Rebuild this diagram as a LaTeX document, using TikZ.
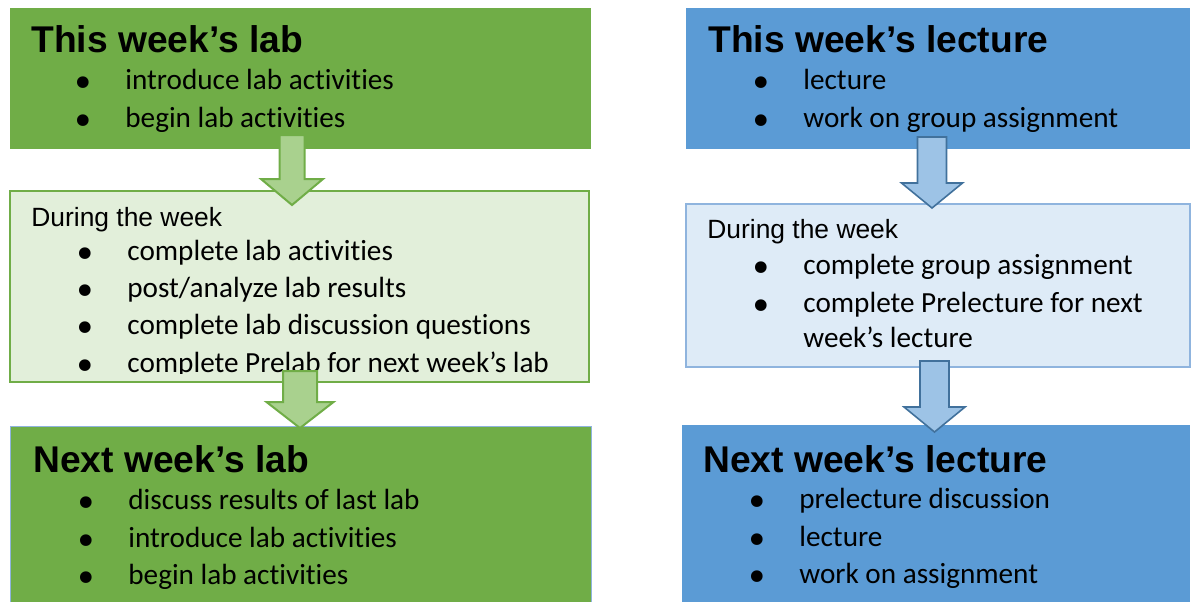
\documentclass[tikz,border=0pt]{standalone}
\usepackage{fontspec}
\setmainfont{Carlito}[Ligatures=NoCommon]
\newfontfamily\arialfont{Liberation Sans}
\newfontfamily\dejafont{DejaVu Sans}
\usetikzlibrary{calc}
\definecolor{labgreen}{HTML}{70AD47}
\definecolor{lablight}{HTML}{E2EFDA}
\definecolor{labarrow}{HTML}{A9D18E}
\definecolor{lecblue}{HTML}{5B9BD5}
\definecolor{leclight}{HTML}{DEEBF7}
\definecolor{lecarrow}{HTML}{9DC3E6}
\definecolor{lecedge}{HTML}{41719C}
\definecolor{lecline}{HTML}{8FB4DE}
\tikzset{
  panel/.style={anchor=north west, inner sep=0pt, outer sep=0pt},
  ttl/.style={anchor=base west, inner sep=0pt,
              font=\arialfont\bfseries\fontsize{18.6}{22}\selectfont},
  during/.style={anchor=base west, inner sep=0pt,
                 font=\arialfont\fontsize{13.2}{16}\selectfont},
  item/.style={anchor=base west, inner sep=0pt,
               font=\fontsize{14.6}{19}\selectfont},
  garrow/.style={fill=labarrow, draw=labgreen, line width=1pt, line join=miter},
  barrow/.style={fill=lecarrow, draw=lecedge, line width=0.8pt, line join=miter},
}
\newcommand{\bul}{\llap{\makebox[0pt][c]{\raisebox{-4pt}{\dejafont
  \fontsize{20}{20}\selectfont\symbol{"2022}}}\hspace{21pt}}}
% block arrow: style, top point, tip point, head length, shaft half, head half
\newcommand{\blockdown}[6]{%
  \draw[#1] let \p1=(#2), \p2=(#3) in
    (\x1-#5,\y1) -- (\x1+#5,\y1) -- (\x1+#5,\y2+#4) -- (\x1+#6,\y2+#4)
    -- (\x2,\y2) -- (\x1-#6,\y2+#4) -- (\x1-#5,\y2+#4) -- cycle;}

\begin{document}
\begin{tikzpicture}[x=0.5pt, y=-0.5pt]
\useasboundingbox (0,0) rectangle (1193,601);

% lab column
\node[panel, fill=labgreen, minimum width=290.5pt, minimum height=70.5pt]
  (labnow) at (10,8) {};
\node[panel, fill=lablight, draw=labgreen, line width=0.75pt,
  minimum width=289.5pt, minimum height=95.5pt] (labweek) at (10,191) {};
\node[panel, fill=labgreen, draw=lecline, line width=0.5pt,
  minimum width=290.5pt, minimum height=90pt] (labnext) at (10,426) {};

\node[ttl] (labnowt) at ($(labnow.north west)+(21,44)$) {This week’s lab};
\foreach \t [count=\i] in {introduce lab activities, begin lab activities}
  \node[item] (labnow\i) at ($(labnow.north west)+(115,{43+38*\i})$) {\bul\t};

\node[during] (labweekt) at ($(labweek.north west)+(21,35)$) {During the week};
\begin{scope}
  % last line is cut off by the box margin
  \clip (labweek.north west) rectangle ($(labweek.south east)+(0,-9)$);
  \foreach \t [count=\i] in {complete lab activities, post/analyze lab results,
      complete lab discussion questions, complete Prelab for next week’s lab}
    \node[item] (labweek\i) at ($(labweek.north west)+(117,{32+37.3*\i})$) {\bul\t};
\end{scope}

\node[ttl] (labnextt) at ($(labnext.north west)+(23,46)$) {Next week’s lab};
\foreach \t [count=\i] in {discuss results of last lab,
    introduce lab activities, begin lab activities}
  \node[item] (labnext\i) at ($(labnext.north west)+(118,{46+37.5*\i})$) {\bul\t};

% lecture column
\node[panel, fill=lecblue, minimum width=252pt, minimum height=70.5pt]
  (lecnow) at (686,8) {};
\node[panel, fill=leclight, draw=lecline, line width=0.75pt,
  minimum width=252pt, minimum height=81.5pt] (lecweek) at (686,204) {};
\node[panel, fill=lecblue, minimum width=254pt, minimum height=90pt]
  (lecnext) at (682,425) {};

\node[ttl] (lecnowt) at ($(lecnow.north west)+(22,44)$) {This week’s lecture};
\foreach \t [count=\i] in {lecture, work on group assignment}
  \node[item] (lecnow\i) at ($(lecnow.north west)+(117,{43+38*\i})$) {\bul\t};

\node[during] (lecweekt) at ($(lecweek.north west)+(21,34)$) {During the week};
\foreach \t [count=\i] in {complete group assignment,
    complete Prelecture for next}
  \node[item] (lecweek\i) at ($(lecweek.north west)+(117,{32+38*\i})$) {\bul\t};
\node[item] (lecweek3) at ($(lecweek.north west)+(117,143)$) {week’s lecture};

\node[ttl] (lecnextt) at ($(lecnext.north west)+(21,47)$) {Next week’s lecture};
\foreach \t [count=\i] in {prelecture discussion, lecture, work on assignment}
  \node[item] (lecnext\i) at ($(lecnext.north west)+(117,{46+37.5*\i})$) {\bul\t};

% arrows between the boxes
\coordinate (ga1) at ($(labnow.south west)+(282,-14)$);
\coordinate (gb1) at ($(labweek.north west)+(282,14)$);
\coordinate (ga2) at ($(labweek.south west)+(290,-11)$);
\coordinate (gb2) at ($(labnext.north west)+(290,2)$);
\coordinate (ba1) at ($(lecnow.south west)+(246,-12)$);
\coordinate (bb1) at ($(lecweek.north west)+(246,4)$);
\coordinate (ba2) at ($(lecweek.south west)+(248.5,-6)$);
\coordinate (bb2) at ($(lecnext.north west)+(252.5,7)$);

\blockdown{garrow}{ga1}{gb1}{13pt}{6.25pt}{15.5pt}
\blockdown{garrow}{ga2}{gb2}{13pt}{8.5pt}{16.75pt}
\blockdown{barrow}{ba1}{bb1}{12.5pt}{7.25pt}{15.25pt}
\blockdown{barrow}{ba2}{bb2}{12.5pt}{7.25pt}{15.25pt}

\end{tikzpicture}
\end{document}
